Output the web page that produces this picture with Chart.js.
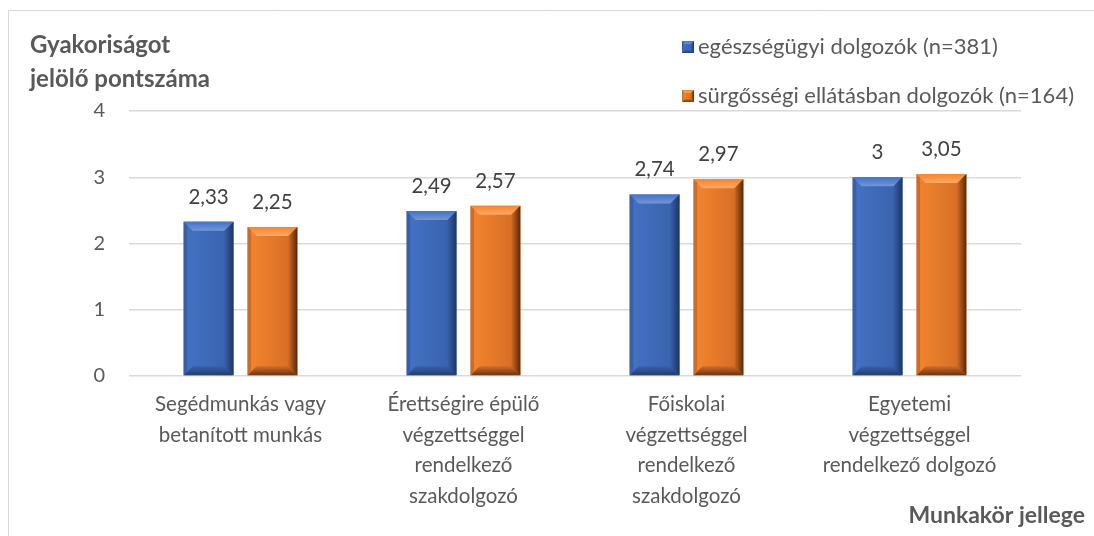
<!DOCTYPE html>
<html>
<head>
<meta charset="utf-8">
<script src="https://cdn.jsdelivr.net/npm/chart.js@4.4.1/dist/chart.umd.min.js"></script>
<style>
  html, body { margin: 0; padding: 0; background: #fff; }
  #wrap { width: 1094px; height: 536px; position: relative; }
</style>
</head>
<body>
<div id="wrap"><canvas id="chart" width="1094" height="536"></canvas></div>
<script>
// chart data
const categories = [
    ['Segédmunkás vagy', 'betanított munkás'],
    ['Érettségire épülő', 'végzettséggel', 'rendelkező', 'szakdolgozó'],
    ['Főiskolai', 'végzettséggel', 'rendelkező', 'szakdolgozó'],
    ['Egyetemi', 'végzettséggel', 'rendelkező dolgozó']
];
const seriesNames = ['egészségügyi dolgozók (n=381)', 'sürgősségi ellátásban dolgozók (n=164)'];
const healthWorkers = [2.33, 2.49, 2.74, 3];
const emergencyWorkers = [2.25, 2.57, 2.97, 3.05];
const yTicks = [0, 1, 2, 3, 4];

const FONT = 'Lato, "Open Sans", sans-serif';
const TEXT = '#595959';

// face / light / dark shades for the bevelled bars
const shades = [
    { face: '#4472C4', light: '#7396D8', dark: '#1F355E', left: '#3760AA' },
    { face: '#F5862F', light: '#FAA866', dark: '#55290E', left: '#D06A24' }
];

function fmt(v) {
    return String(v).replace('.', ',');
}

function bevel(ctx, left, top, right, bottom, s, b) {
    ctx.save();
    const g = ctx.createLinearGradient(left, 0, right, 0);
    g.addColorStop(0, s.face);
    g.addColorStop(1, s.left);
    ctx.fillStyle = g;
    ctx.fillRect(left, top, right - left, bottom - top);
    // top
    const gt = ctx.createLinearGradient(0, top, 0, top + b);
    gt.addColorStop(0, s.face);
    gt.addColorStop(1, s.light);
    ctx.fillStyle = gt;
    ctx.beginPath();
    ctx.moveTo(left, top); ctx.lineTo(right, top);
    ctx.lineTo(right - b, top + b); ctx.lineTo(left + b, top + b);
    ctx.closePath(); ctx.fill();
    // right
    const gr = ctx.createLinearGradient(right - b, 0, right, 0);
    gr.addColorStop(0, s.left);
    gr.addColorStop(1, s.dark);
    ctx.fillStyle = gr;
    ctx.beginPath();
    ctx.moveTo(right, top); ctx.lineTo(right, bottom);
    ctx.lineTo(right - b, bottom - b); ctx.lineTo(right - b, top + b);
    ctx.closePath(); ctx.fill();
    // bottom
    const gb = ctx.createLinearGradient(0, bottom - b, 0, bottom);
    gb.addColorStop(0, s.left);
    gb.addColorStop(1, s.dark);
    ctx.fillStyle = gb;
    ctx.globalAlpha = 0.85;
    ctx.beginPath();
    ctx.moveTo(left, bottom); ctx.lineTo(right, bottom);
    ctx.lineTo(right - b, bottom - b); ctx.lineTo(left + b, bottom - b);
    ctx.closePath(); ctx.fill();
    ctx.globalAlpha = 1;
    // left edge
    ctx.fillStyle = s.left;
    ctx.beginPath();
    ctx.moveTo(left, top); ctx.lineTo(left + b * 0.4, top + b * 0.4);
    ctx.lineTo(left + b * 0.4, bottom - b * 0.4); ctx.lineTo(left, bottom);
    ctx.closePath(); ctx.fill();
    ctx.restore();
}

const decorPlugin = {
    id: 'decor',
    beforeDraw(chart) {
        const ctx = chart.ctx;
        ctx.save();
        ctx.fillStyle = '#fff';
        ctx.fillRect(0, 0, chart.width, chart.height);
        ctx.strokeStyle = '#D9D9D9';
        ctx.lineWidth = 1;
        ctx.beginPath();
        ctx.moveTo(8.5, chart.height);
        ctx.lineTo(8.5, 10.5);
        ctx.lineTo(chart.width, 10.5);
        ctx.stroke();
        ctx.restore();
    },
    afterDatasetsDraw(chart) {
        const ctx = chart.ctx;
        chart.data.datasets.forEach((ds, i) => {
            chart.getDatasetMeta(i).data.forEach((bar, j) => {
                const p = bar.getProps(['x', 'y', 'base', 'width'], true);
                bevel(ctx, p.x - p.width / 2, p.y, p.x + p.width / 2, p.base, shades[i], 9);
                ctx.save();
                ctx.fillStyle = '#404040';
                ctx.font = '20.5px ' + FONT;
                ctx.textAlign = 'center';
                ctx.textBaseline = 'alphabetic';
                ctx.fillText(fmt(ds.data[j]), p.x, p.y - 18);
                ctx.restore();
            });
        });
    },
    afterDraw(chart) {
        const ctx = chart.ctx;
        ctx.save();
        ctx.fillStyle = TEXT;
        ctx.font = 'bold 24px ' + FONT;
        ctx.textBaseline = 'middle';
        ctx.textAlign = 'left';
        ctx.fillText('Gyakoriságot', 30, 45);
        ctx.fillText('jelölő pontszáma', 30, 79);
        ctx.font = 'bold 23px ' + FONT;
        ctx.textAlign = 'right';
        ctx.fillText('Munkakör jellege', 1085, 516);
        // legend
        ctx.font = '22px ' + FONT;
        ctx.textAlign = 'left';
        const rows = [47, 96];
        seriesNames.forEach((name, i) => {
            bevel(ctx, 682, rows[i] - 6, 694, rows[i] + 6, shades[i], 3);
            ctx.fillStyle = TEXT;
            ctx.fillText(name, 698, rows[i]);
        });
        ctx.restore();
    }
};

new Chart(document.getElementById('chart'), {
    type: 'bar',
    data: {
        labels: categories,
        datasets: [
            { label: seriesNames[0], data: healthWorkers, backgroundColor: 'rgba(0,0,0,0)' },
            { label: seriesNames[1], data: emergencyWorkers, backgroundColor: 'rgba(0,0,0,0)' }
        ]
    },
    options: {
        responsive: false,
        animation: false,
        layout: { padding: { top: 111, right: 73, left: 0, bottom: 0 } },
        datasets: { bar: { categoryPercentage: 0.573, barPercentage: 0.78 } },
        plugins: { legend: { display: false }, tooltip: { enabled: false } },
        scales: {
            x: {
                grid: { display: false },
                border: { display: false },
                ticks: {
                    color: TEXT,
                    font: { family: FONT, size: 20.5, lineHeight: 1.5 },
                    padding: 5,
                    maxRotation: 0,
                    autoSkip: false
                },
                afterFit(s) { s.height = 160; }
            },
            y: {
                min: 0,
                max: 4,
                afterBuildTicks(s) { s.ticks = yTicks.map(v => ({ value: v })); },
                grid: { color: '#D9D9D9', lineWidth: 1.5, drawTicks: false },
                border: { display: false },
                ticks: {
                    color: TEXT,
                    font: { family: FONT, size: 20 },
                    padding: 24
                },
                afterFit(s) { s.width = 129; }
            }
        }
    },
    plugins: [decorPlugin]
});
</script>
</body>
</html>
